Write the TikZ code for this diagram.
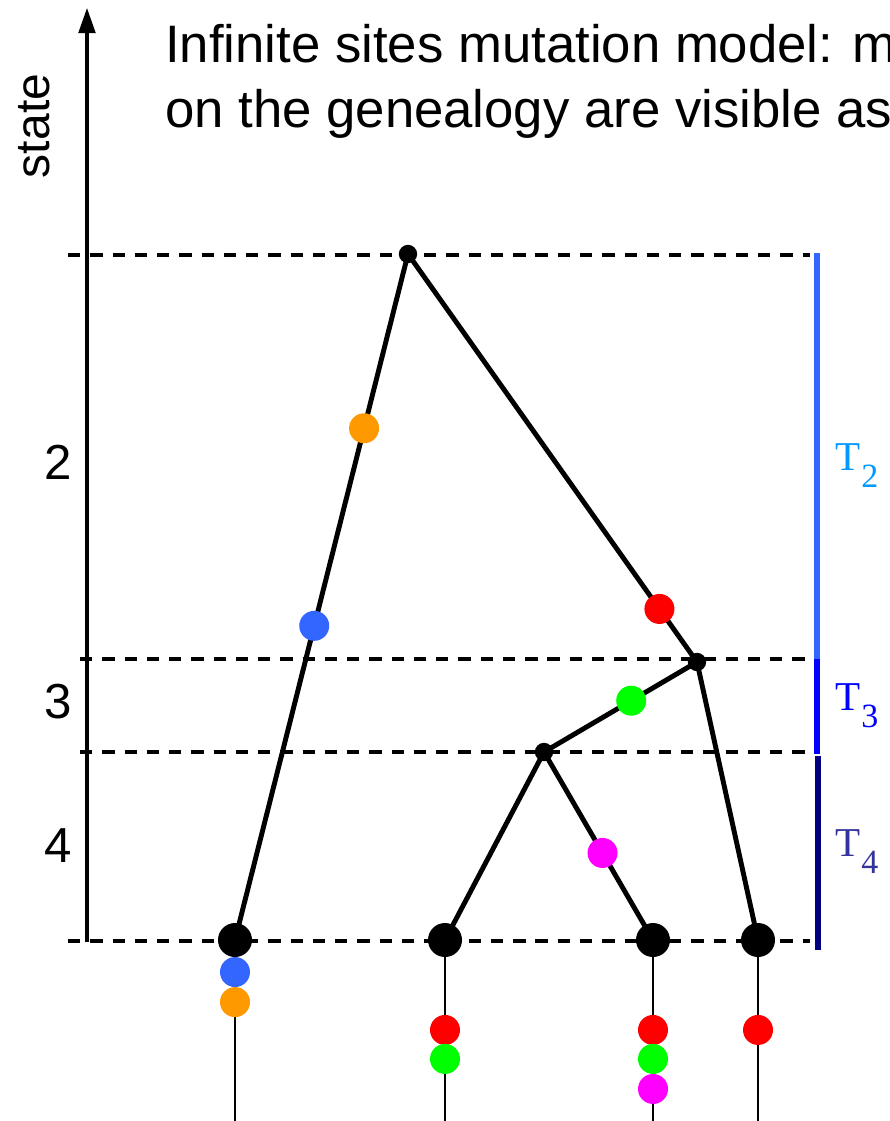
\documentclass[tikz,border=0pt]{standalone}
\usepackage{fontspec}
\setmainfont{Liberation Sans}
\newfontfamily\serfont{Liberation Serif}
\usetikzlibrary{arrows.meta,positioning,backgrounds}
\definecolor{mutorange}{HTML}{FF9900}
\definecolor{mutblue}{HTML}{3366FF}
\definecolor{mutred}{HTML}{FF0000}
\definecolor{mutgreen}{HTML}{00FF00}
\definecolor{mutpink}{HTML}{FF00FF}
\definecolor{ttwobar}{HTML}{3366FF}
\definecolor{ttwotext}{HTML}{0099FF}
\definecolor{tthree}{HTML}{0000FF}
\definecolor{tfour}{HTML}{000080}
\definecolor{tfourtext}{HTML}{333399}
\newcommand{\tlab}[1]{{\serfont T\kern1pt\raisebox{-15pt}{\fontsize{29}{29}\selectfont #1}}}

\begin{document}
\begin{tikzpicture}[
  x=0.03cm,y=-0.03cm,
  leaf/.style={circle,fill=black,inner sep=0pt,minimum size=1.02cm},
  split/.style={circle,fill=black,inner sep=0pt,minimum size=0.55cm},
  mut/.style={circle,fill=#1,inner sep=0pt,minimum size=0.9cm},
  branch/.style={line width=4.2pt},
  stem/.style={line width=1.2pt},
  level/.style={line width=2.8pt,dash pattern=on 10.5pt off 8.5pt},
  bar/.style={line width=5pt,draw=#1},
  axis/.style={line width=2.6pt,-{Triangle[length=0.75cm,width=0.5cm]}},
  big/.style={font=\fontsize{45}{47}\selectfont,inner sep=0pt},
  tlabel/.style={font=\fontsize{35}{35}\selectfont,inner sep=0pt,anchor=base west},
]
  \clip (0,0) rectangle (889,1121);

  \node[big,anchor=base west] (title1) at (165,63) {Infinite sites mutation model: m};
  \node[big,anchor=base west] (title2) at (165,127) {on the genealogy are visible as};
  \node[big,rotate=90,font=\fontsize{41}{41}\selectfont] (state) at (34,126) {state};
  \node[big,font=\fontsize{42}{42}\selectfont] (s2) at (58,462) {2};
  \node[big,font=\fontsize{42}{42}\selectfont] (s3) at (58,702) {3};
  \node[big,font=\fontsize{42}{42}\selectfont] (s4) at (58,846) {4};

  \node[tlabel,text=ttwotext] (t2) at (835,470) {\tlab{2}};
  \node[tlabel,text=tthree] (t3) at (835,710) {\tlab{3}};
  \node[tlabel,text=tfourtext] (t4) at (835,856) {\tlab{4}};

  \node[split] (root) at (408,254) {};
  \node[split] (mid) at (697,662) {};
  \node[split] (low) at (544,752) {};
  \node[leaf] (a) at (235,940) {};
  \node[leaf] (b) at (445,940) {};
  \node[leaf] (c) at (653,940) {};
  \node[leaf] (d) at (758,940) {};
  \coordinate (aend) at (235,1121);
  \coordinate (bend) at (445,1121);
  \coordinate (cend) at (653,1121);
  \coordinate (dend) at (758,1121);

  \begin{scope}[on background layer]
    \draw[axis] (87,942) -- (87,8);
    \draw[level] (68,255) -- (810,255);
    \draw[level] (80,659) -- (810,659);
    \draw[level] (80,752) -- (810,752);
    \draw[level] (68,941) -- (810,941);
    \draw[bar=ttwobar] (817,253) -- (817,659);
    \draw[bar=tthree] (817,659) -- (817,754);
    \draw[bar=tfour] (818,756) -- (818,950);

    \draw[branch] (root.center) -- (a.center)
      node[mut=mutorange,pos=0.254] {} node[mut=mutblue,pos=0.542] {};
    \draw[branch] (root.center) -- (mid.center) node[mut=mutred,pos=0.87] {};
    \draw[branch] (mid.center) -- (low.center) node[mut=mutgreen,pos=0.43] {};
    \draw[branch] (mid.center) -- (d.center);
    \draw[branch] (low.center) -- (b.center);
    \draw[branch] (low.center) -- (c.center) node[mut=mutpink,pos=0.537] {};

    \draw[stem] (a.center) -- (aend)
      node[mut=mutblue,pos=0.177] {} node[mut=mutorange,pos=0.343] {};
    \draw[stem] (b.center) -- (bend)
      node[mut=mutred,pos=0.497] {} node[mut=mutgreen,pos=0.657] {};
    \draw[stem] (c.center) -- (cend)
      node[mut=mutred,pos=0.497] {} node[mut=mutgreen,pos=0.657] {}
      node[mut=mutpink,pos=0.823] {};
    \draw[stem] (d.center) -- (dend) node[mut=mutred,pos=0.497] {};
  \end{scope}
\end{tikzpicture}
\end{document}
